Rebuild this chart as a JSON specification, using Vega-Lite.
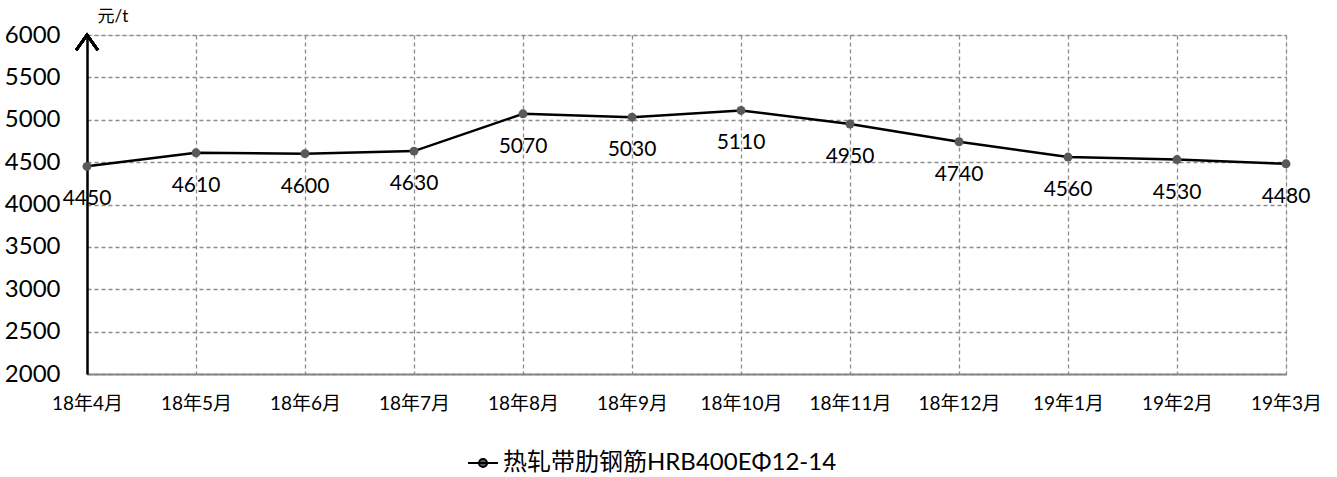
{
  "$schema": "https://vega.github.io/schema/vega-lite/v6.json",
  "autosize": "none",
  "width": 1199,
  "height": 339,
  "padding": {"left": 87, "top": 35, "right": 51, "bottom": 103},
  "background": "white",
  "data": {
    "values": [
      {"month": "18年4月", "price": 4450, "series": "热轧带肋钢筋HRB400EΦ12-14"},
      {"month": "18年5月", "price": 4610, "series": "热轧带肋钢筋HRB400EΦ12-14"},
      {"month": "18年6月", "price": 4600, "series": "热轧带肋钢筋HRB400EΦ12-14"},
      {"month": "18年7月", "price": 4630, "series": "热轧带肋钢筋HRB400EΦ12-14"},
      {"month": "18年8月", "price": 5070, "series": "热轧带肋钢筋HRB400EΦ12-14"},
      {"month": "18年9月", "price": 5030, "series": "热轧带肋钢筋HRB400EΦ12-14"},
      {"month": "18年10月", "price": 5110, "series": "热轧带肋钢筋HRB400EΦ12-14"},
      {"month": "18年11月", "price": 4950, "series": "热轧带肋钢筋HRB400EΦ12-14"},
      {"month": "18年12月", "price": 4740, "series": "热轧带肋钢筋HRB400EΦ12-14"},
      {"month": "19年1月", "price": 4560, "series": "热轧带肋钢筋HRB400EΦ12-14"},
      {"month": "19年2月", "price": 4530, "series": "热轧带肋钢筋HRB400EΦ12-14"},
      {"month": "19年3月", "price": 4480, "series": "热轧带肋钢筋HRB400EΦ12-14"}
    ]
  },
  "encoding": {
    "x": {
      "field": "month", "type": "ordinal", "sort": null,
      "scale": {"type": "point", "padding": 0},
      "axis": {
        "title": null, "labelAngle": 0, "ticks": false,
        "labelFont": "Lato, Noto Sans CJK SC", "labelFontSize": 19, "labelColor": "#000000",
        "labelPadding": 20,
        "domainColor": "#868686", "domainWidth": 2,
        "grid": true, "gridColor": "#8c8c8c", "gridDash": [4, 3], "gridWidth": 1.3
      }
    },
    "y": {
      "field": "price", "type": "quantitative",
      "scale": {"domain": [2000, 6000], "nice": false, "zero": false},
      "axis": {
        "title": "元/t", "titleAngle": 0, "titleX": 10, "titleY": -19,
        "titleAlign": "left", "titleBaseline": "middle",
        "titleFont": "Lato, Noto Sans CJK SC", "titleFontSize": 17, "titleFontWeight": "normal", "titleColor": "#000000",
        "values": [2000, 2500, 3000, 3500, 4000, 4500, 5000, 5500, 6000],
        "format": "d",
        "ticks": false, "labelFont": "Lato", "labelFontSize": 24, "labelColor": "#000000",
        "labelPadding": 27, "labelBaseline": "middle",
        "domainColor": "#000000", "domainWidth": 2.5,
        "grid": true, "gridColor": "#8c8c8c", "gridDash": [4, 3], "gridWidth": 1.3
      }
    }
  },
  "layer": [
    {
      "mark": {"type": "line", "strokeWidth": 2.5},
      "encoding": {
        "color": {
          "field": "series", "type": "nominal",
          "scale": {"range": ["#000000"]},
          "legend": {
            "title": null, "orient": "none", "legendX": 380, "legendY": 412,
            "padding": 0,
            "symbolType": "M -1 0 L 1 0 M 0.27 0 A 0.27 0.27 0 1 1 -0.27 0 A 0.27 0.27 0 1 1 0.27 0 Z",
            "symbolSize": 900, "symbolStrokeWidth": 2, "symbolFillColor": "#595959", "symbolStrokeColor": "#000000",
            "labelFont": "Lato, Noto Sans CJK SC", "labelFontSize": 24, "labelColor": "#000000", "labelOffset": 4,
            "labelLimit": 600
          }
        }
      }
    },
    {
      "mark": {"type": "point", "filled": true, "color": "#595959", "size": 80, "opacity": 1}
    },
    {
      "mark": {"type": "text", "dy": 33, "font": "Lato", "fontSize": 21, "color": "#000000", "align": "center", "baseline": "middle"},
      "encoding": {"text": {"field": "price", "type": "quantitative", "format": "d"}}
    },
    {
      "mark": {"type": "point", "shape": "M -1 1.4 L 0 0 L 1 1.4", "filled": false, "stroke": "#000000", "strokeWidth": 2.5, "size": 400, "opacity": 1, "strokeCap": "square"},
      "encoding": {
        "x": {"datum": "18年4月", "type": "ordinal"},
        "y": {"datum": 6000, "type": "quantitative"}
      }
    }
  ]
}
